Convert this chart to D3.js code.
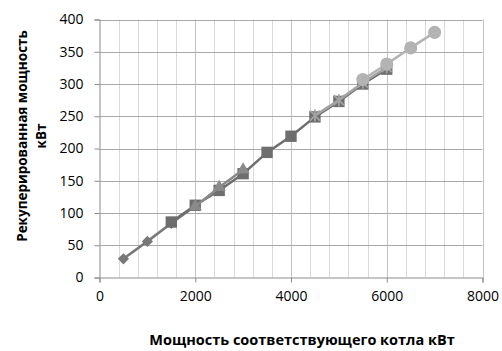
<!DOCTYPE html>
<html><head><meta charset="utf-8">
<script src="https://cdn.jsdelivr.net/npm/d3@7"></script>
<style>body{margin:0;background:#fff}svg{display:block}</style>
</head><body>
<svg id="c" width="502" height="351"></svg>
<script>
const xTicks = [0, 2000, 4000, 6000, 8000];
const yTicks = [0, 50, 100, 150, 200, 250, 300, 350, 400];
const sDiamondX = [500, 1000, 1500, 2000];
const sDiamondY = [29, 56, 84, 111];
const sSquareX = [1500, 2000, 2500, 3000, 3500, 4000, 4500, 5000, 5500, 6000];
const sSquareY = [86, 112, 135, 161, 194, 219, 249, 273, 300, 323];
const sTriangleX = [2000, 2500, 3000];
const sTriangleY = [110, 140, 167];
const sCrossX = [4500, 5000, 5500, 6000];
const sCrossY = [251, 275, 302, 326];
const sCircleX = [5500, 6000, 6500, 7000];
const sCircleY = [307, 331, 356, 380];
const xTitle = "Мощность соответствующего котла кВт";
const yTitle = ["Рекуперированная мощность", "кВт"];

const svg = d3.select("#c");
const L = 99.5, R = 482.5, T = 19.5, B = 277.5;
const x = d3.scaleLinear().domain([0, 8000]).range([L, R]);
const y = d3.scaleLinear().domain([0, 400]).range([B, T]);
const font = "'Open Sans', 'Liberation Sans', sans-serif";

const minor = d3.range(400, 8000, 400).filter(v => v % 2000 !== 0);
svg.append("g").selectAll("line").data(minor).join("line")
  .attr("x1", d => Math.round(x(d)) + 0.5).attr("x2", d => Math.round(x(d)) + 0.5)
  .attr("y1", T).attr("y2", B).attr("stroke", "#d9d9d9").attr("stroke-width", 1);
svg.append("g").selectAll("line").data(xTicks.slice(1)).join("line")
  .attr("x1", d => Math.round(x(d)) + 0.5).attr("x2", d => Math.round(x(d)) + 0.5)
  .attr("y1", T).attr("y2", B).attr("stroke", "#c4c4c4").attr("stroke-width", 1);
svg.append("g").selectAll("line").data(yTicks.slice(1)).join("line")
  .attr("x1", L).attr("x2", R)
  .attr("y1", d => Math.round(y(d)) + 0.5).attr("y2", d => Math.round(y(d)) + 0.5)
  .attr("stroke", "#a9a9a9").attr("stroke-width", 1);

const xAxis = d3.axisBottom(x).tickValues(xTicks).tickSize(5).tickPadding(9).tickFormat(d3.format("d"));
const yAxis = d3.axisLeft(y).tickValues(yTicks).tickSize(5).tickPadding(11).tickFormat(d3.format("d"));
const gx = svg.append("g").attr("transform", `translate(0,${B})`).call(xAxis);
const gy = svg.append("g").attr("transform", `translate(${L},0)`).call(yAxis);
[gx, gy].forEach(g => {
  g.select(".domain").attr("stroke", "#8c8c8c");
  g.selectAll(".tick line").attr("stroke", "#8c8c8c");
  g.selectAll("text").attr("fill", "#000").style("font-family", font).style("font-size", "14px");
});

function series(xs, ys, color, shape, size) {
  const pts = xs.map((v, i) => [x(v), y(ys[i])]);
  svg.append("path").attr("d", d3.line()(pts)).attr("fill", "none")
    .attr("stroke", color).attr("stroke-width", 2.5);
  const g = svg.append("g");
  if (shape === "cross") {
    pts.forEach(p => {
      const s = 5;
      g.append("path").attr("d", `M${p[0]-s},${p[1]-s}L${p[0]+s},${p[1]+s}M${p[0]-s},${p[1]+s}L${p[0]+s},${p[1]-s}M${p[0]},${p[1]-s-1}L${p[0]},${p[1]+s+1}`)
        .attr("stroke", color).attr("stroke-width", 1.8).attr("fill", "none");
    });
  } else {
    const sym = d3.symbol().type(shape).size(size);
    g.selectAll("path").data(pts).join("path")
      .attr("transform", d => `translate(${d[0]},${d[1]})`)
      .attr("d", sym).attr("fill", color);
  }
}
series(sDiamondX, sDiamondY, "#787878", d3.symbolDiamond2, 80);
series(sSquareX, sSquareY, "#6e6e6e", d3.symbolSquare2, 165);
series(sTriangleX, sTriangleY, "#8a8a8a", d3.symbolTriangle2, 120);
series(sCrossX, sCrossY, "#a3a3a3", "cross", 0);
series(sCircleX, sCircleY, "#b3b3b3", d3.symbolCircle, 135);

svg.append("text").attr("x", 302).attr("y", 345).attr("text-anchor", "middle")
  .style("font-family", font).style("font-size", "14.5px").style("font-weight", "bold")
  .text(xTitle);
yTitle.forEach((t, i) => {
  const cx = 27 + i * 19, cy = 136;
  svg.append("text").attr("x", cx).attr("y", cy)
    .attr("transform", `rotate(-90,${cx},${cy})`)
    .attr("text-anchor", "middle").attr("fill", "#000")
    .style("font-family", font)
    .style("font-size", "13.5px").style("font-weight", "bold").text(t);
});
</script>
</body></html>
